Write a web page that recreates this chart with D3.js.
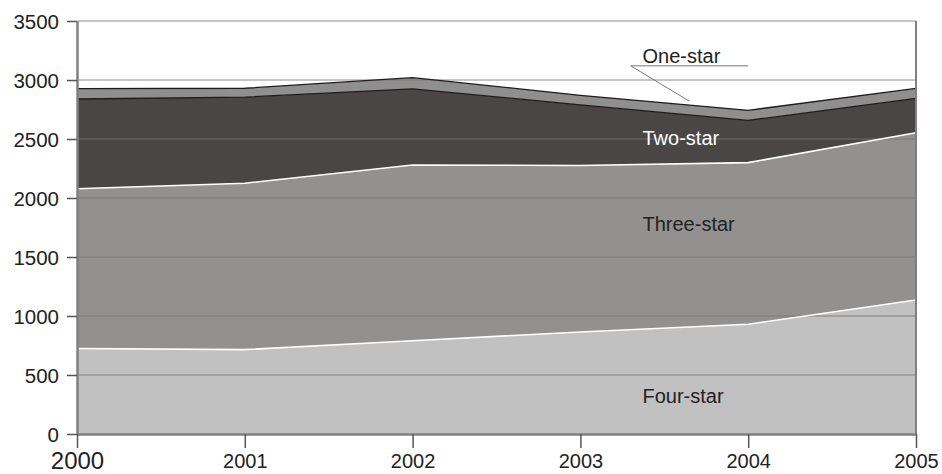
<!DOCTYPE html>
<html>
<head>
<meta charset="utf-8">
<script src="https://cdn.jsdelivr.net/npm/d3@7"></script>
<style>
  body { margin: 0; background: #fff; }
  text { font-family: Arial, "Liberation Sans", sans-serif; }
</style>
</head>
<body>
<div id="chart"></div>
<script>
// Hotel counts by star rating
const years = [2000, 2001, 2002, 2003, 2004, 2005];
const fourStar = [725, 715, 790, 865, 930, 1135];
const threeStar = [1353, 1410, 1490, 1410, 1370, 1418];
const twoStar = [761, 730, 645, 515, 358, 292];
const oneStar = [88, 75, 95, 80, 85, 84];
const yTicks = [0, 500, 1000, 1500, 2000, 2500, 3000, 3500];

const keys = ["four", "three", "two", "one"];
const names = {four: "Four-star", three: "Three-star", two: "Two-star", one: "One-star"};
const fills = {four: "#c1c1c1", three: "#929190", two: "#4a4645", one: "#8f8f8f"};
const edges = {four: "#ffffff", three: "#ffffff", two: "#1e1c1c", one: "#1e1c1c"};

const table = years.map((y, i) => ({
    year: y, four: fourStar[i], three: threeStar[i], two: twoStar[i], one: oneStar[i]
}));

const width = 942;
const height = 474;
const margin = {top: 21, right: 26, bottom: 40, left: 77};
const w = width - margin.left - margin.right;
const h = height - margin.top - margin.bottom;

const svg = d3.select("#chart")
    .append("svg")
    .attr("width", width)
    .attr("height", height);

const g = svg.append("g")
    .attr("transform", `translate(${margin.left}, ${margin.top})`);

const x = d3.scaleLinear().domain([2000, 2005]).range([0, w]);
const y = d3.scaleLinear().domain([0, 3500]).range([h, 0]);

const series = d3.stack().keys(keys)(table);

const area = d3.area()
    .x(d => x(d.data.year))
    .y0(d => y(d[0]))
    .y1(d => y(d[1]));

const topLine = d3.line()
    .x(d => x(d.data.year))
    .y(d => y(d[1]));

// Areas
g.selectAll(".layer")
    .data(series)
    .enter()
    .append("path")
    .attr("class", "layer")
    .attr("d", area)
    .attr("fill", d => fills[d.key]);

// Gridlines over the areas
g.selectAll(".grid")
    .data(yTicks.filter(t => t > 0))
    .enter()
    .append("line")
    .attr("x1", 0)
    .attr("x2", w)
    .attr("y1", d => y(d))
    .attr("y2", d => y(d))
    .attr("stroke", "#777")
    .attr("stroke-opacity", 0.55)
    .attr("stroke-width", 1.3);

// Edges on top of each layer
g.selectAll(".edge")
    .data(series)
    .enter()
    .append("path")
    .attr("d", topLine)
    .attr("fill", "none")
    .attr("stroke", d => edges[d.key])
    .attr("stroke-width", d => d.key === "four" || d.key === "three" ? 1.6 : 1.3);

// Axes
const yAxis = g.append("g")
    .call(d3.axisLeft(y).tickValues(yTicks).tickFormat(d3.format("d"))
        .tickSize(10).tickSizeOuter(0).tickPadding(8));
yAxis.select(".domain").attr("stroke", "#808080").attr("stroke-width", 2.5);
yAxis.selectAll(".tick line").attr("stroke", "#555").attr("stroke-width", 1.5);
yAxis.selectAll(".tick text")
    .attr("font-size", 20.5)
    .attr("fill", "#222")
    .attr("dy", "0.36em");

const xAxis = g.append("g")
    .attr("transform", `translate(0, ${h})`)
    .call(d3.axisBottom(x).tickValues(years).tickFormat(d3.format("d"))
        .tickSize(14).tickSizeOuter(0).tickPadding(4));
xAxis.select(".domain").attr("stroke", "#808080").attr("stroke-width", 2.5);
xAxis.selectAll(".tick line").attr("stroke", "#555").attr("stroke-width", 1.5);
xAxis.selectAll(".tick text")
    .attr("font-size", d => d === 2000 ? 24 : 20)
    .attr("fill", "#222")
    .attr("dy", d => d === 2000 ? "0.72em" : "0.82em");

// Right border
g.append("line")
    .attr("x1", w).attr("x2", w)
    .attr("y1", 0).attr("y2", h)
    .attr("stroke", "#808080")
    .attr("stroke-width", 2);

// Series labels
const labels = [
    {key: "two", year: 2003.37, value: 2450, color: "#fff"},
    {key: "three", year: 2003.37, value: 1720, color: "#222"},
    {key: "four", year: 2003.37, value: 265, color: "#222"},
    {key: "one", year: 2003.37, value: 3145, color: "#222"}
];
g.selectAll(".lbl")
    .data(labels)
    .enter()
    .append("text")
    .attr("x", d => x(d.year))
    .attr("y", d => y(d.value))
    .attr("font-size", 20)
    .attr("fill", d => d.color)
    .text(d => names[d.key]);

// Leader line for One-star
g.append("path")
    .attr("d", d3.line()([[x(2003.65), y(2820)], [x(2003.3), y(3120)], [x(2004.0), y(3120)]]))
    .attr("fill", "none")
    .attr("stroke", "#777")
    .attr("stroke-width", 1);
</script>
</body>
</html>
